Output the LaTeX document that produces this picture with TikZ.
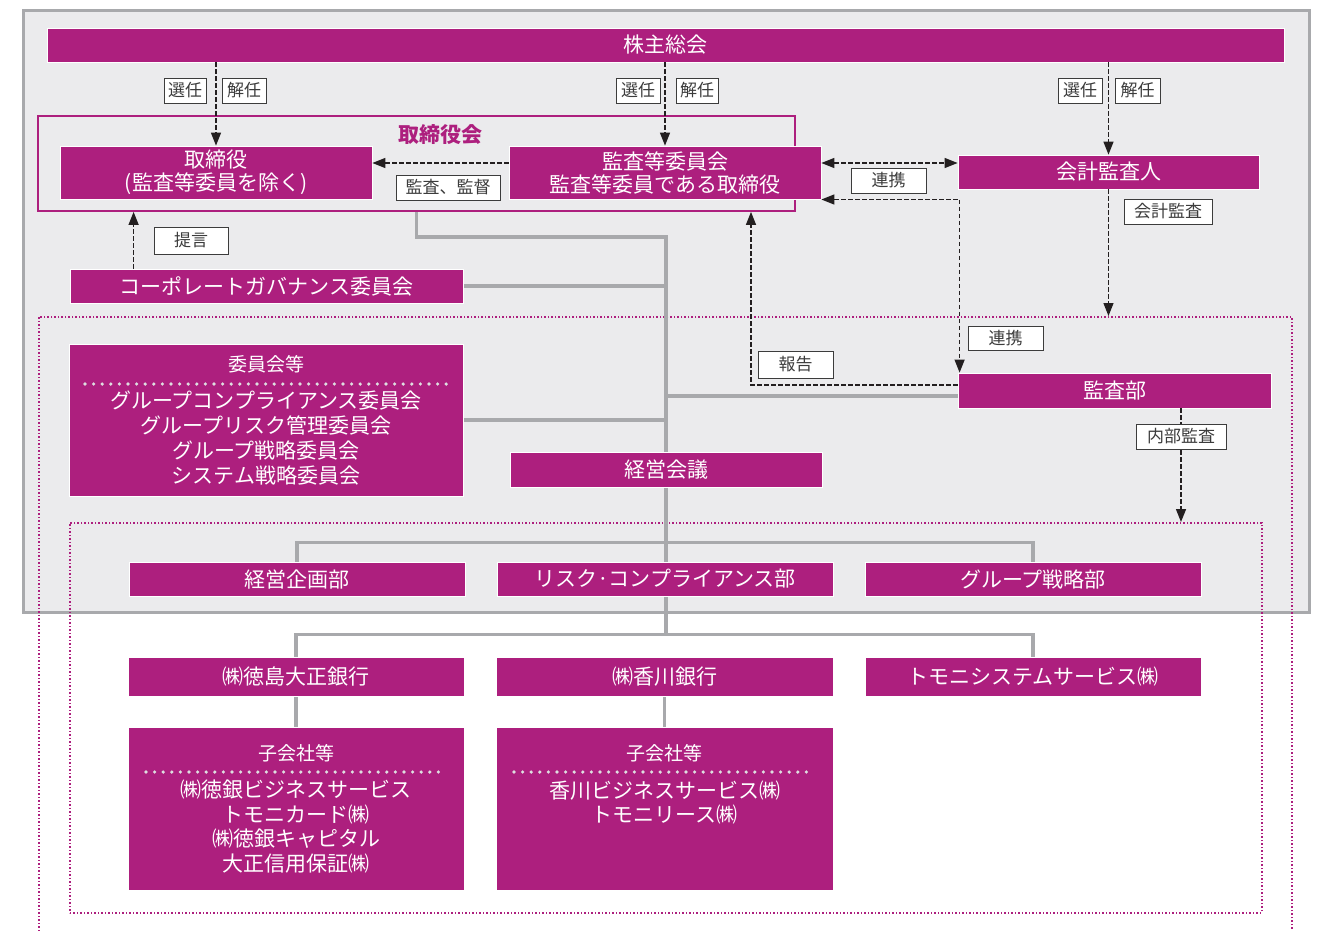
\documentclass[tikz,border=0pt]{standalone}
\usepackage{fontspec}
\setmainfont{Noto Sans CJK JP}
\usepackage{tikz}
\usetikzlibrary{arrows.meta}
\pgfdeclarelayer{back}
\pgfdeclarelayer{bg}
\pgfsetlayers{back,bg,main}

\definecolor{tmag}{RGB}{173,31,126}
\definecolor{lgray}{RGB}{235,235,237}
\definecolor{lnk}{RGB}{168,169,172}
\definecolor{ink}{RGB}{35,31,32}
\definecolor{lbl}{RGB}{60,60,60}
\definecolor{dotc}{RGB}{222,222,224}

\begin{document}
\begin{tikzpicture}[x=1pt,y=-1pt,>={Triangle[length=13pt,width=10pt]},
  orgbox/.style={fill=tmag,draw=white,line width=0.8pt,text=white,inner sep=0pt,align=center,font=\fontsize{21}{23}\selectfont},
  tagbox/.style={fill=white,draw=lbl,line width=0.9pt,text=lbl,inner sep=0pt,minimum height=25pt,font=\fontsize{17}{17}\selectfont},
  linkline/.style={draw=lnk,line width=3.2pt},
  flowline/.style={draw=ink,line width=1.3pt,dash pattern=on 4.5pt off 2.5pt},
  zoneline/.style={draw=tmag,line width=1.6pt,dash pattern=on 1.6pt off 1.9pt,inner sep=0pt,anchor=north west},
  sepline/.style={draw=dotc,line width=3.6pt,line cap=round,dash pattern=on 0pt off 8.6pt}]
\useasboundingbox (0,0) rectangle (1319,930);
\begin{pgfonlayer}{back}
\draw[fill=lgray,draw=lnk,line width=3pt] (23,10) rectangle (1309,612);
\node[zoneline,minimum width=1253pt,minimum height=640pt] (grp) at (38,316) {};
\node[zoneline,minimum width=1192pt,minimum height=390pt] (sub) at (69,522) {};
\end{pgfonlayer}

\node[draw=tmag,line width=1.8pt,inner sep=0pt,minimum width=757pt,minimum height=95pt] (board) at (416.5,163.5) {};
\node[text=tmag,font=\fontsize{21}{21}\selectfont\bfseries] (boardt) at (440,135) {取締役会};

\node[orgbox,minimum width=1237pt,minimum height=34pt] (gm) at (665.5,45) {株主総会};
\node[orgbox,minimum width=312pt,minimum height=53pt] (dir) at (216,172.5) {取締役\\(監査等委員を除く)};
\node[orgbox,minimum width=312pt,minimum height=53pt] (ac) at (665,172.5) {監査等委員会\\監査等委員である取締役};
\node[orgbox,minimum width=301pt,minimum height=34pt] (ea) at (1108.5,172) {会計監査人};
\node[orgbox,minimum width=393pt,minimum height=34pt] (cg) at (266.5,286) {コーポレートガバナンス委員会};
\node[orgbox,minimum width=394pt,minimum height=152pt,font=\fontsize{21}{25}\selectfont] (com) at (266,420)
  {{\fontsize{19}{19}\selectfont 委員会等}\\[12pt]グループコンプライアンス委員会\\グループリスク管理委員会\\グループ戦略委員会\\システム戦略委員会};
\node[orgbox,minimum width=312pt,minimum height=35pt] (mc) at (666,469.5) {経営会議};
\node[orgbox,minimum width=313pt,minimum height=35pt] (iad) at (1114.5,390.5) {監査部};
\node[orgbox,minimum width=336pt,minimum height=34pt] (plan) at (297,579) {経営企画部};
\node[orgbox,minimum width=336pt,minimum height=34pt] (risk) at (665,579) {リスク·コンプライアンス部};
\node[orgbox,minimum width=336pt,minimum height=34pt] (strat) at (1033,579) {グループ戦略部};
\node[orgbox,minimum width=336pt,minimum height=39pt] (tb) at (296,676.5) {㈱徳島大正銀行};
\node[orgbox,minimum width=337pt,minimum height=39pt] (kb) at (664.5,676.5) {㈱香川銀行};
\node[orgbox,minimum width=336pt,minimum height=39pt] (ts) at (1033,676.5) {トモニシステムサービス㈱};
\node[orgbox,minimum width=336pt,minimum height=163pt,font=\fontsize{21}{24.5}\selectfont] (tbs) at (296,808.5)
  {{\fontsize{19}{19}\selectfont 子会社等}\\[13pt]㈱徳銀ビジネスサービス\\トモニカード㈱\\㈱徳銀キャピタル\\大正信用保証㈱};
\node[orgbox,minimum width=337pt,minimum height=163pt,font=\fontsize{21}{24.5}\selectfont] (kbs) at (664.5,808.5)
  {{\fontsize{19}{19}\selectfont 子会社等}\\[13pt]香川ビジネスサービス㈱\\トモニリース㈱\\\phantom{ト}\\\phantom{ト}};
\draw[sepline] (85,384) -- (450,384);
\draw[sepline] (146,772) -- (443,772);
\draw[sepline] (514,772) -- (813,772);

\begin{pgfonlayer}{bg}
\path (mc.south) ++(0,55) coordinate (j1) ++(0,92) coordinate (j2);
\draw[linkline] (board.south) -- ++(0,25) -| (mc.north);
\draw[linkline] (cg.east) -- (cg.east -| mc.north);
\draw[linkline] (com.east) -- (com.east -| mc.north);
\draw[linkline] ([yshift=-5.5pt]iad.west) -- ([yshift=-5.5pt]iad.west -| mc.north);
\draw[linkline] (mc.south) -- (j2);
\draw[linkline] (plan.north) |- (j1) -| (strat.north);
\draw[linkline] (tb.north) |- (j2) -| (ts.north);
\draw[linkline] (tb.south) -- (tbs.north);
\draw[linkline] (kb.south) -- (kbs.north);
\end{pgfonlayer}

\path (ac.south) ++(86,0) coordinate (acr);
\path ([xshift=64pt]cg.north west) coordinate (cgr);
\path ([xshift=66.5pt]iad.south) coordinate (iar);
\draw[flowline,->] (gm.south -| dir.north) -- (dir.north);
\draw[flowline,->] (gm.south -| ac.north) -- (ac.north);
\draw[flowline,->] (gm.south -| ea.north) -- (ea.north);
\draw[flowline,->] ([yshift=9.5pt]ac.west) -- ([yshift=9.5pt]ac.west -| dir.east);
\draw[flowline,<->] ([yshift=9.5pt]ac.east) -- ([yshift=9.5pt]ac.east -| ea.west);
\draw[flowline,<->] ([yshift=-27pt]ac.east) -| ([xshift=2pt]iad.north west);
\draw[flowline,->] ([yshift=5.5pt]iad.west) -| (acr |- board.south);
\draw[flowline,->] (cgr) -- (cgr |- board.south);
\draw[flowline,->] (ea.south) -- (ea.south |- grp.north);
\draw[flowline,->] (iar) -- (iar |- sub.north);

\node[tagbox,minimum width=42pt] (sel1) at (185,90.5) {選任};
\node[tagbox,minimum width=44pt] (dis1) at (244,90.5) {解任};
\node[tagbox,minimum width=44pt] (sel2) at (638,90.5) {選任};
\node[tagbox,minimum width=42pt] (dis2) at (697,90.5) {解任};
\node[tagbox,minimum width=44pt] (sel3) at (1080,90.5) {選任};
\node[tagbox,minimum width=45pt] (dis3) at (1137.5,90.5) {解任};
\node[tagbox,minimum width=104pt] (sup) at (448,187.5) {監査、監督};
\node[tagbox,minimum width=75pt] (coop1) at (888.5,180.5) {連携};
\node[tagbox,minimum width=88pt] (acct) at (1168,211.5) {会計監査};
\node[tagbox,minimum width=74pt,minimum height=27pt] (adv) at (191,240.5) {提言};
\node[tagbox,minimum width=75pt,minimum height=24pt] (coop2) at (1005.5,338) {連携};
\node[tagbox,minimum width=75pt,minimum height=27pt] (rep) at (795.5,364.5) {報告};
\node[tagbox,minimum width=90pt] (int) at (1181,436.5) {内部監査};
\end{tikzpicture}
\end{document}
